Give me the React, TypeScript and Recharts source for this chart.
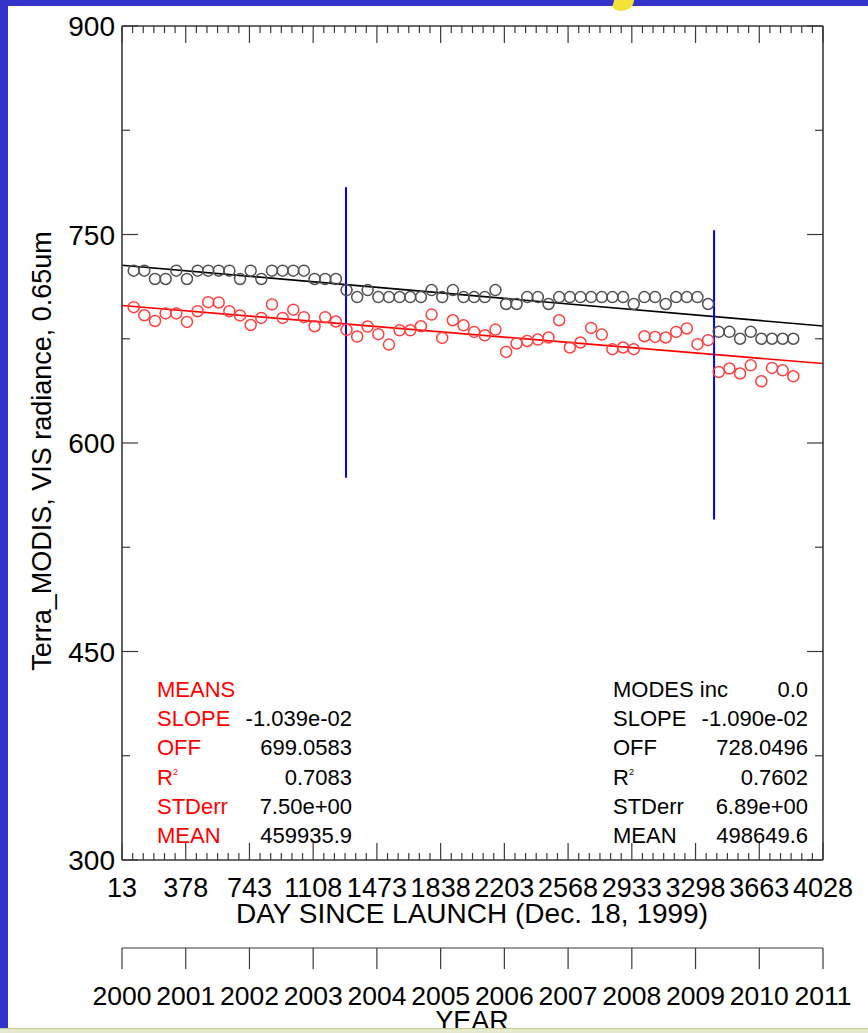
import React from "react";
import { ComposedChart, Scatter, Line, XAxis, YAxis, ReferenceLine } from "recharts";

const FONT = '"Liberation Sans", Arial, Helvetica, sans-serif';
const AXIS = "#3a3a3a";

// day-since-launch major ticks and the matching year labels
const DAY_TICKS = [13, 378, 743, 1108, 1473, 1838, 2203, 2568, 2933, 3298, 3663, 4028];
const YEAR_LABELS = ["2000", "2001", "2002", "2003", "2004", "2005", "2006", "2007", "2008", "2009", "2010", "2011"];
const Y_TICKS = [300, 375, 450, 525, 600, 675, 750, 825, 900];
const Y_LABELED = [300, 450, 600, 750, 900];

// sample days (~2 month spacing)
const SAMPLE_DAYS = [
  80, 141, 202, 263, 324, 385, 446, 507, 567, 628, 689, 750, 811, 872, 933, 994,
  1055, 1116, 1177, 1238, 1299, 1360, 1420, 1481, 1542, 1603, 1664, 1725, 1786, 1847,
  1908, 1969, 2030, 2091, 2152, 2213, 2273, 2334, 2395, 2456, 2517, 2578, 2639, 2700,
  2761, 2822, 2883, 2944, 3005, 3066, 3127, 3187, 3248, 3309, 3370, 3431, 3492, 3553,
  3614, 3675, 3736, 3797, 3858,
];

// black circles (modes)
const MODES = [
  724, 724, 718, 718, 724, 718, 724, 724, 724, 724, 718, 724, 718, 724, 724, 724,
  724, 718, 718, 718, 710, 705, 710, 705, 705, 705, 705, 705, 710, 705,
  710, 705, 705, 705, 710, 700, 700, 705, 705, 700, 705, 705, 705, 705,
  705, 705, 705, 700, 705, 705, 700, 705, 705, 705, 700, 680, 680, 675,
  680, 675, 675, 675, 675,
];

// red circles (means)
const MEANS = [
  697.7, 691.9, 687.8, 693.2, 693.2, 687.1, 694.8, 701.3, 701.1, 694.8, 691.8, 684.9, 690, 699.7, 690, 695.9,
  690.5, 684, 690.5, 687.4, 681.4, 676.6, 683.8, 678.3, 670.8, 681.1, 681.1, 684, 692.4, 675.6,
  688.3, 684.7, 679.9, 677.5, 681.6, 665.5, 671.6, 673.4, 674.4, 675.9, 688.3, 668.7, 672.3, 682.8,
  678, 667.5, 668.7, 667.5, 676.8, 676.3, 675.9, 679.9, 682.4, 671.1, 674, 651.1, 653.6, 650,
  655.9, 644.4, 654, 652.3, 648,
];

// fit parameters [offset, slope]
const MEANS_FIT = [699.0583, -1.039e-2];
const MODES_FIT = [728.0496, -1.09e-2];

// blue markers
const MARKER_DAYS = [1296, 3404];
const MARKER_TOP = [784, 753];
const MARKER_BOTTOM = [575, 545];

const STAT_LABELS = ["SLOPE", "OFF", "R2", "STDerr", "MEAN"];
const MEANS_STATS = ["-1.039e-02", "699.0583", "0.7083", "7.50e+00", "459935.9"];
const MODES_STATS = ["-1.090e-02", "728.0496", "0.7602", "6.89e+00", "498649.6"];

const modeData = SAMPLE_DAYS.map((day, i) => ({ day, v: MODES[i] }));
const meanData = SAMPLE_DAYS.map((day, i) => ({ day, v: MEANS[i] }));
const first = DAY_TICKS[0];
const last = DAY_TICKS[DAY_TICKS.length - 1];
const fitLine = (f: number[]) => [
  { day: first, v: f[0] + f[1] * first },
  { day: last, v: f[0] + f[1] * last },
];

const minorTicks: number[] = [];
for (let i = 0; i < DAY_TICKS.length - 1; i++) {
  for (let j = 0; j < 6; j++) {
    minorTicks.push(DAY_TICKS[i] + (j * (DAY_TICKS[i + 1] - DAY_TICKS[i])) / 6);
  }
}
minorTicks.push(last);

const txt = { fontFamily: FONT, fill: "#000" };
const TICK_FONT = 27;

function BottomTick(props: any) {
  const { x, y, payload } = props;
  const major = DAY_TICKS.includes(payload.value);
  return (
    <g>
      <line x1={x} x2={x} y1={y} y2={y - (major ? 17 : 7)} stroke={AXIS} strokeWidth={1.2} />
      {major && (
        <text x={x} y={y + 37} textAnchor="middle" fontSize={TICK_FONT} {...txt}>
          {payload.value}
        </text>
      )}
    </g>
  );
}

function TopTick(props: any) {
  const { x, y, payload } = props;
  const major = DAY_TICKS.includes(payload.value);
  return <line x1={x} x2={x} y1={y} y2={y + (major ? 17 : 7)} stroke={AXIS} strokeWidth={1.2} />;
}

function YearTick(props: any) {
  const { x, y, payload } = props;
  const idx = DAY_TICKS.indexOf(payload.value);
  return (
    <g>
      <line x1={x} x2={x} y1={y} y2={y + 21} stroke={AXIS} strokeWidth={1.2} />
      <text x={x} y={y + 57} textAnchor="middle" fontSize={TICK_FONT - 0.5} {...txt}>
        {YEAR_LABELS[idx]}
      </text>
    </g>
  );
}

function LeftTick(props: any) {
  const { x, y, payload } = props;
  const major = Y_LABELED.includes(payload.value);
  return (
    <g>
      <line x1={x} x2={x + (major ? 16 : 8)} y1={y} y2={y} stroke={AXIS} strokeWidth={1.2} />
      {major && (
        <text x={x - 7} y={y + 10} textAnchor="end" fontSize={TICK_FONT + 1} {...txt}>
          {payload.value}
        </text>
      )}
    </g>
  );
}

function RightTick(props: any) {
  const { x, y, payload } = props;
  const major = Y_LABELED.includes(payload.value);
  return <line x1={x} x2={x - (major ? 16 : 8)} y1={y} y2={y} stroke={AXIS} strokeWidth={1.2} />;
}

const circleShape = (color: string) => (p: any) =>
  <circle cx={p.cx} cy={p.cy} r={5.5} fill="none" stroke={color} strokeWidth={1.5} />;

function StatBlock({ x, xEnd, title, titleValue, values, red }: any) {
  const labelColor = red ? "#ff0000" : "#000";
  const rowY = (i: number) => 697 + i * 29.2;
  return (
    <g fontFamily={FONT} fontSize={22}>
      <text x={x} y={rowY(0)} fill={labelColor}>{title}</text>
      {titleValue && (
        <text x={xEnd} y={rowY(0)} textAnchor="end" fill="#000">{titleValue}</text>
      )}
      {STAT_LABELS.map((l, i) => (
        <g key={l}>
          <text x={x} y={rowY(i + 1)} fill={labelColor}>
            {l === "R2" ? (
              <>
                R<tspan fontSize={9} dy={-10}>2</tspan>
              </>
            ) : (
              l
            )}
          </text>
          <text x={xEnd} y={rowY(i + 1)} textAnchor="end" fill="#000">{values[i]}</text>
        </g>
      ))}
    </g>
  );
}

export default function App() {
  return (
    <div style={{ position: "fixed", left: 0, top: 0, width: 868, height: 1033, background: "#3333cc", overflow: "hidden" }}>
      <div style={{ position: "absolute", left: 8, top: 6, width: 860, height: 1027, background: "#fff" }} />
      <div style={{ position: "absolute", left: 613, top: -2, width: 20, height: 13, background: "#f2e33a", borderRadius: "20% 0 70% 60%", transform: "skewX(-15deg)" }} />
      <div style={{ position: "absolute", left: 0, top: 0 }}>
        <ComposedChart width={868} height={1033} margin={{ top: 0, right: 0, bottom: 0, left: 0 }}>
          <XAxis
            xAxisId="d"
            dataKey="day"
            type="number"
            domain={[first, last]}
            allowDataOverflow
            ticks={minorTicks}
            interval={0}
            height={88}
            tickSize={0}
            tickMargin={0}
            tickLine={false}
            tick={<BottomTick />}
            axisLine={{ stroke: AXIS, strokeWidth: 1.6 }}
          />
          <XAxis
            xAxisId="year"
            dataKey="day"
            type="number"
            domain={[first, last]}
            allowDataOverflow
            ticks={DAY_TICKS}
            interval={0}
            height={85}
            tickSize={0}
            tickMargin={0}
            tickLine={false}
            tick={<YearTick />}
            axisLine={{ stroke: AXIS, strokeWidth: 1.2 }}
          />
          <XAxis
            xAxisId="top"
            orientation="top"
            dataKey="day"
            type="number"
            domain={[first, last]}
            allowDataOverflow
            ticks={minorTicks}
            interval={0}
            height={26}
            tickSize={0}
            tickMargin={0}
            tickLine={false}
            tick={<TopTick />}
            axisLine={{ stroke: AXIS, strokeWidth: 1.6 }}
          />
          <YAxis
            yAxisId="l"
            dataKey="v"
            type="number"
            domain={[300, 900]}
            allowDataOverflow
            ticks={Y_TICKS}
            interval={0}
            width={122}
            tickSize={0}
            tickMargin={0}
            tickLine={false}
            tick={<LeftTick />}
            axisLine={{ stroke: AXIS, strokeWidth: 1.6 }}
          />
          <YAxis
            yAxisId="r"
            orientation="right"
            type="number"
            domain={[300, 900]}
            allowDataOverflow
            ticks={Y_TICKS}
            interval={0}
            width={45}
            tickSize={0}
            tickMargin={0}
            tickLine={false}
            tick={<RightTick />}
            axisLine={{ stroke: AXIS, strokeWidth: 1.6 }}
          />
          <Scatter xAxisId="d" yAxisId="l" data={modeData} dataKey="v" shape={circleShape("#505050")} isAnimationActive={false} />
          <Scatter xAxisId="d" yAxisId="l" data={meanData} dataKey="v" shape={circleShape("#ff4040")} isAnimationActive={false} />
          <Line xAxisId="d" yAxisId="l" data={fitLine(MODES_FIT)} dataKey="v" stroke="#000" strokeWidth={1.6} dot={false} isAnimationActive={false} />
          <Line xAxisId="d" yAxisId="l" data={fitLine(MEANS_FIT)} dataKey="v" stroke="#ff0000" strokeWidth={1.6} dot={false} isAnimationActive={false} />
          {MARKER_DAYS.map((d, i) => (
            <ReferenceLine
              key={d}
              xAxisId="d"
              yAxisId="l"
              segment={[{ x: d, y: MARKER_TOP[i] }, { x: d, y: MARKER_BOTTOM[i] }]}
              stroke="#0000ff"
              strokeWidth={2}
            />
          ))}
        </ComposedChart>
      </div>
      <svg width={868} height={1033} style={{ position: "absolute", left: 0, top: 0, pointerEvents: "none" }}>
        <text x={51} y={451} transform="rotate(-90 51 451)" textAnchor="middle" fontSize={27} {...txt}>
          Terra_MODIS, VIS radiance, 0.65um
        </text>
        <text x={472} y={923} textAnchor="middle" fontSize={28} {...txt}>
          DAY SINCE LAUNCH (Dec. 18, 1999)
        </text>
        <text x={472} y={1030} textAnchor="middle" fontSize={27} {...txt}>
          YEAR
        </text>
        <StatBlock x={157} xEnd={352} title="MEANS" values={MEANS_STATS} red />
        <StatBlock x={613} xEnd={808} title="MODES inc" titleValue="0.0" values={MODES_STATS} />
      </svg>
      <div style={{ position: "absolute", left: 0, top: 1028, width: 868, height: 5, background: "#e7e9cf", borderTop: "1px solid #c5c99e" }} />
    </div>
  );
}
